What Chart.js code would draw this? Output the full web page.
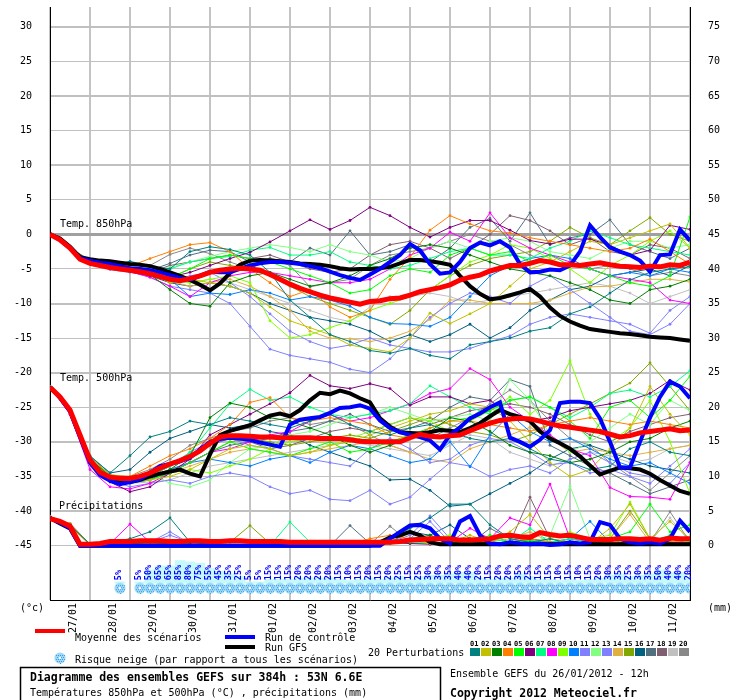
<!DOCTYPE html>
<html>
<head>
<meta charset="utf-8">
<script src="https://cdn.jsdelivr.net/npm/chart.js@4.4.0/dist/chart.umd.min.js"></script>
<style>
  body { margin: 0; background: #fff; }
  canvas { display: block; }
</style>
</head>
<body>
<canvas id="ens" width="740" height="700" style="width:740px;height:700px"></canvas>
<script>
// GEFS ensemble 26/01/2012 12h, 384h run, 53N 6.6E

const RUN_HOURS = 384;
const dateLabels = ['27/01', '28/01', '29/01', '30/01', '31/01', '01/02', '02/02', '03/02',
                    '04/02', '05/02', '06/02', '07/02', '08/02', '09/02', '10/02', '11/02'];
const dayTicks = [12, 36, 60, 84, 108, 132, 156, 180, 204, 228, 252, 276, 300, 324, 348, 372];
const tempTicks = [-45, -40, -35, -30, -25, -20, -15, -10, -5, 0, 5, 10, 15, 20, 25, 30];
const rainTicks = [0, 5, 10, 15, 20, 25, 30, 35, 40, 45, 50, 55, 60, 65, 70, 75];

// 6-hourly series (65 values)
const t850Mean = [0,-0.8,-2,-3.6,-4.2,-4.5,-4.8,-5.0,-5.2,-5.4,-5.7,-6.1,-6.5,-6.7,-6.4,-6.0,-5.5,-5.2,-5.0,-4.9,-5.0,-5.2,-5.8,-6.5,-7.2,-7.8,-8.3,-8.8,-9.2,-9.5,-9.8,-10.1,-9.7,-9.6,-9.3,-9.2,-8.8,-8.3,-8.0,-7.7,-7.3,-6.6,-6.2,-5.9,-5.3,-4.9,-4.5,-4.5,-4.2,-3.8,-4.0,-4.4,-4.4,-4.5,-4.3,-4.1,-4.4,-4.6,-4.7,-4.8,-4.6,-4.7,-4.4,-4.5,-4.0];
const t850Control = [0,-0.8,-2,-3.4,-3.8,-4.1,-4.3,-4.6,-4.9,-5.0,-5.2,-5.5,-5.9,-6.3,-6.6,-6.0,-5.4,-5.5,-5.5,-5.0,-4.5,-4.2,-4.0,-4.0,-4.1,-4.3,-4.6,-4.9,-5.4,-5.9,-6.3,-6.6,-5.8,-5.0,-4.0,-3.0,-1.4,-2.3,-4.3,-5.7,-5.5,-4.0,-2.0,-1.2,-1.6,-1.0,-1.9,-4.3,-5.5,-5.4,-5.1,-5.2,-4.5,-2.5,1.3,-0.4,-1.9,-2.5,-3.0,-3.8,-5.4,-3.0,-2.9,0.7,-0.9];
const t850Gfs = [0,-0.6,-1.8,-3.3,-3.6,-3.8,-3.9,-4.1,-4.3,-4.4,-4.6,-5.0,-5.5,-6.0,-6.6,-7.3,-8.1,-7.1,-5.6,-4.4,-3.8,-3.7,-3.8,-3.9,-4.0,-4.2,-4.3,-4.4,-4.6,-4.9,-5.1,-5.0,-5.0,-4.9,-4.7,-4.2,-3.7,-3.7,-3.9,-4.1,-4.4,-6.0,-7.5,-8.6,-9.4,-9.2,-8.8,-8.4,-7.9,-9.0,-10.6,-11.8,-12.6,-13.2,-13.7,-13.9,-14.1,-14.3,-14.4,-14.6,-14.8,-14.9,-15.0,-15.2,-15.4];

const t500Mean = [-22.1,-23.5,-25.4,-29,-32.6,-34.4,-35.1,-35.3,-35.3,-35.0,-34.5,-33.8,-33.2,-32.7,-32.1,-31.3,-30.2,-29.3,-29.1,-29.1,-29.2,-29.3,-29.3,-29.4,-29.4,-29.4,-29.4,-29.5,-29.5,-29.5,-29.7,-29.9,-30.0,-30.0,-30.0,-30.0,-29.4,-28.9,-29.2,-29.3,-29.1,-29.0,-28.4,-27.8,-27.3,-26.9,-26.7,-26.6,-26.7,-27.0,-27.4,-27.7,-27.9,-28.1,-28.3,-28.5,-28.9,-29.3,-29.1,-28.7,-28.5,-28.3,-28.1,-28.4,-28.3];
const t500Control = [-22.1,-23.6,-25.6,-29.3,-33.0,-34.8,-35.6,-36.1,-35.8,-35.4,-34.5,-33.5,-33.2,-32.8,-32.3,-31.1,-30.0,-29.6,-29.4,-29.5,-29.7,-30.1,-30.4,-30.7,-27.5,-26.8,-26.6,-26.4,-25.8,-25.1,-25.0,-24.7,-25.2,-26.9,-28.0,-28.6,-29.0,-29.3,-29.8,-31.1,-29.0,-27.9,-26.6,-25.9,-25.0,-24.3,-29.4,-30.0,-30.7,-29.7,-28.3,-24.4,-24.2,-24.2,-24.4,-26.6,-30.0,-33.7,-33.7,-30.0,-26.5,-23.5,-21.3,-22.0,-23.7];
const t500Gfs = [-22.1,-23.6,-25.5,-29.2,-32.8,-34.6,-35.3,-35.6,-35.8,-35.5,-35.0,-34.6,-34.3,-34.0,-34.6,-35.0,-31.8,-29.0,-28.4,-28.0,-27.6,-26.9,-26.2,-25.9,-26.3,-25.4,-24.0,-22.9,-23.1,-22.6,-23.0,-23.7,-24.3,-26.6,-27.8,-28.6,-28.7,-28.8,-28.6,-28.3,-28.4,-28.6,-28.0,-27.3,-26.3,-25.4,-26.0,-26.4,-27.0,-28.5,-29.5,-30.2,-31.0,-32.1,-33.4,-34.7,-34.2,-33.7,-33.8,-34.0,-34.6,-35.5,-36.3,-37.1,-37.5];

const rainMean = [3.9,3.5,2.8,0.2,0.2,0.3,0.6,0.6,0.6,0.7,0.7,0.7,0.6,0.6,0.7,0.7,0.6,0.6,0.7,0.7,0.6,0.6,0.6,0.6,0.5,0.5,0.5,0.5,0.5,0.5,0.5,0.5,0.5,0.5,0.5,0.6,0.8,0.9,1.0,1.0,1.0,0.8,0.8,0.9,1.0,1.4,1.5,1.3,1.2,1.9,1.6,1.4,1.5,1.2,0.9,0.9,0.9,1.0,1.0,0.9,1.0,0.8,1.1,1.0,1.0];
const rainControl = [4.0,3.3,2.5,0,0,0,0,0,0,0,0,0,0,0,0,0,0,0,0,0,0,0,0,0,0,0,0,0,0,0,0,0,0,0,1.0,2.0,2.9,3.0,2.5,1.0,0.3,3.5,4.3,1.5,0.3,0.2,0.5,0.3,0.2,0.3,0.1,0.2,0.5,0.3,0.5,3.4,3.0,1.0,0.5,0.3,0.5,0.3,1.0,3.6,2.0];
const rainGfs = [4.0,3.2,2.5,0,0,0,0,0,0,0,0,0,0,0,0,0,0,0,0,0,0,0,0,0,0,0,0,0,0,0,0,0,0,0.5,1.2,1.5,2.0,1.5,0.5,0.2,0.2,0.2,0.2,0.2,0.2,0.2,0.2,0.2,0.2,0.2,0.2,0.2,0.2,0.2,0.2,0.2,0.2,0.2,0.2,0.2,0.2,0.2,0.2,0.2,0.2];

// snow risk, % of all scenarios, 6-hourly
const snowRisk = [0,0,0,0,0,0,0,5,0,5,50,65,65,85,80,75,55,45,35,25,5,5,15,15,15,20,20,20,20,15,10,15,20,15,20,25,15,25,30,30,35,40,40,20,15,20,20,35,25,15,15,10,15,10,15,20,30,35,25,30,35,50,40,40,20];

// 20 perturbations, 12-hourly (33 values each)
const memberColors = ['#008080', '#c0c000', '#008000', '#ff8000', '#00ff00', '#800080', '#00ff80', '#ff00ff', '#80ff00', '#0080ff',
                      '#8080ff', '#80ff80', '#8080ff', '#e0b040', '#80a800', '#006080', '#507080', '#806070', '#c0c0c0', '#888888'];

const t850Members = [
  [0,-2,-3.8,-4.6,-3.9,-4.6,-5.0,-2.5,-1.8,-2.2,-3.0,-5.5,-9.5,-12.0,-14.5,-15.5,-16.8,-17.2,-16.5,-17.5,-18.0,-16.0,-15.5,-15.0,-14.0,-13.5,-11.5,-10.5,-8.5,-6.6,-5.5,-5.0,-4.7],
  [0,-2.1,-4.0,-4.9,-5.3,-5.6,-7.0,-6.5,-7.0,-7.5,-8.5,-10.5,-12.5,-13.5,-14.5,-16.0,-16.5,-17.0,-15.0,-11.4,-12.9,-11.5,-10.0,-7.5,-5.0,-4.0,-2.5,-1.0,-1.5,-0.5,0.5,1.5,-2.0],
  [0,-2,-3.9,-4.7,-5.1,-5.8,-8.0,-10.0,-10.4,-7.0,-6.0,-5.5,-6.5,-7.5,-7.0,-6.0,-4.5,-3.5,-2.0,-1.5,-2.0,-3.0,-4.0,-5.0,-5.5,-6.0,-7.0,-8.0,-9.5,-10.0,-8.0,-7.5,-6.5],
  [0,-2,-3.7,-4.3,-4.6,-3.5,-2.5,-1.5,-1.2,-2.5,-5.0,-7.0,-9.0,-8.0,-10.5,-12.0,-11.0,-6.5,-3.3,0.6,2.7,1.5,0.5,0.2,-0.5,-1.0,-1.5,-2.0,-2.5,-2.0,-0.7,-2.5,-4.3],
  [0,-2,-3.8,-4.8,-5.2,-5.7,-6.3,-5.0,-3.5,-3.0,-3.5,-4.0,-5.0,-6.0,-7.0,-8.5,-8.0,-6.0,-5.0,-5.5,-3.0,-2.0,-3.0,-2.5,-4.0,-3.0,-4.5,-5.0,-6.0,-7.0,-7.5,-6.0,2.5],
  [0,-2,-4.0,-4.9,-5.4,-6.0,-6.2,-5.5,-4.5,-3.5,-2.6,-1.1,0.5,2.1,0.7,2.0,3.9,2.7,1.0,-0.4,1.0,2.0,2.0,0.6,-0.9,-1.4,-0.7,-0.7,-1.6,-3.0,-2.3,1.3,0.7],
  [0,-2,-3.8,-4.5,-4.8,-5.2,-5.0,-4.0,-3.5,-3.2,-2.3,-1.9,-3.0,-3.0,-2.5,-4.0,-4.5,-5.0,-4.5,-3.5,-2.5,-2.0,-3.0,-3.0,-3.5,-2.0,-1.0,0.5,-0.5,-1.5,-2.0,-2.5,-3.0],
  [0,-2,-4.1,-4.9,-5.4,-6.2,-7.5,-9.0,-7.0,-6.0,-5.5,-5.5,-6.0,-6.5,-7.0,-7.0,-6.5,-5.0,-3.0,-2.0,0.3,-1.0,3.1,-0.5,-2.0,-3.0,-4.0,-5.0,-6.0,-6.5,-7.0,-9.5,-10.0],
  [0,-2,-4.0,-4.8,-5.2,-6.0,-6.5,-7.0,-6.5,-6.0,-7.0,-12.5,-15.0,-14.5,-13.5,-12.5,-11.0,-10.0,-9.0,-8.0,-6.0,-4.0,-3.0,-1.5,-2.0,-3.5,-5.0,-7.0,-4.5,-3.0,-1.0,0.5,-2.0],
  [0,-2,-4.0,-4.6,-5.0,-5.8,-6.5,-9.0,-8.5,-8.7,-8.0,-8.5,-9.5,-9.0,-9.5,-10.4,-12.0,-12.9,-13.0,-13.3,-12.0,-9.0,-6.0,-4.5,-3.5,-3.0,-3.5,-5.0,-6.0,-5.5,-6.0,-5.0,-5.5],
  [0,-2,-4.1,-5.0,-5.4,-6.2,-7.5,-8.0,-8.5,-10.0,-13.3,-16.6,-17.5,-18.0,-18.5,-19.5,-20.0,-18.0,-15.0,-12.0,-10.0,-8.5,-9.0,-10.0,-7.5,-6.0,-8.0,-10.0,-12.0,-14.0,-14.5,-13.0,-10.0],
  [0,-2,-3.8,-4.5,-4.9,-5.3,-4.8,-4.0,-3.2,-2.5,-2.0,-1.5,-1.9,-2.5,-1.5,-2.5,-3.0,-4.0,-3.5,-2.0,-1.0,-2.0,-1.0,-0.5,-1.0,-2.5,-3.0,-3.5,-2.0,-1.0,-1.0,-2.0,-1.5],
  [0,-2,-4.2,-5.1,-5.5,-6.0,-6.8,-6.0,-5.5,-7.0,-9.0,-11.5,-14.0,-15.5,-16.5,-16.0,-15.0,-16.0,-16.5,-17.0,-17.0,-16.5,-15.5,-14.7,-13.0,-12.0,-11.5,-12.0,-12.5,-13.0,-14.3,-11.0,-9.0],
  [0,-2,-3.9,-4.7,-5.1,-5.9,-6.8,-7.5,-7.0,-6.5,-7.5,-9.0,-11.0,-14.0,-15.0,-15.1,-15.5,-15.0,-14.0,-12.3,-9.5,-9.5,-10.0,-10.0,-10.0,-9.5,-8.5,-7.6,-7.5,-7.0,-6.5,-6.5,-6.9],
  [0,-2,-4.0,-4.8,-5.3,-6.0,-6.3,-5.0,-4.0,-4.5,-5.0,-6.0,-7.5,-9.0,-10.0,-11.0,-12.0,-13.0,-11.0,-8.0,-6.0,-4.5,-3.5,-3.0,-2.5,-1.0,1.0,-0.5,-1.5,0.5,2.4,0.0,-1.0],
  [0,-2,-4.1,-4.9,-5.3,-6.0,-7.0,-7.5,-7.0,-7.5,-8.5,-10.0,-11.0,-12.0,-12.5,-13.0,-14.0,-15.5,-14.5,-15.5,-14.5,-13.0,-15.0,-13.5,-11.0,-9.5,-8.0,-7.5,-6.0,-5.5,-5.0,-6.0,-4.5],
  [0,-2,-3.9,-4.6,-5.0,-5.2,-4.2,-3.0,-2.3,-2.5,-4.0,-3.5,-4.0,-2.0,-3.0,0.5,-3.0,-2.5,-1.5,-4.0,-2.0,1.0,2.3,-1.0,3.1,-1.5,-0.5,0.0,2.1,-1.5,-2.5,-3.5,-2.0],
  [0,-2,-4.0,-4.7,-5.1,-5.5,-4.5,-4.0,-3.5,-3.0,-3.5,-3.0,-4.0,-5.0,-5.5,-5.0,-3.0,-1.5,-1.0,-2.0,-3.5,-2.0,0.0,2.7,2.0,0.5,-1.5,-0.5,-2.5,-3.0,-1.5,-2.0,-3.5],
  [0,-2,-4.1,-5.0,-5.4,-6.0,-6.8,-7.0,-6.5,-7.0,-8.0,-9.0,-10.0,-11.0,-12.0,-12.6,-10.5,-9.0,-9.0,-8.5,-9.0,-10.0,-9.5,-9.0,-8.5,-8.0,-7.5,-7.0,-7.5,-8.5,-10.0,-9.0,-8.0],
  [0,-2,-3.9,-4.6,-5.0,-4.5,-2.9,-2.0,-2.8,-4.0,-5.0,-3.5,-4.5,-7.6,-7.0,-6.5,-4.5,-3.0,-2.5,-2.0,-1.0,0.0,-1.0,-1.5,-3.0,-4.0,-4.5,-5.0,-4.5,-5.0,-6.0,-5.5,-6.0]
];

const t500Members = [
  [-22.1,-25.3,-32.0,-34.5,-32.0,-29.3,-28.5,-27.0,-27.5,-26.5,-27.0,-27.5,-28.0,-27.0,-26.0,-27.5,-28.5,-29.0,-28.0,-27.5,-28.5,-29.5,-30.0,-29.5,-31.0,-32.5,-33.0,-34.0,-33.5,-31.0,-30.0,-31.5,-32.0],
  [-22.1,-25.5,-32.8,-35.3,-35.8,-35.5,-35.0,-34.0,-32.5,-31.0,-30.5,-31.0,-32.0,-31.5,-30.5,-30.0,-29.0,-28.0,-27.0,-26.0,-25.5,-24.5,-25.0,-27.0,-30.0,-33.0,-35.0,-34.0,-31.0,-28.0,-22.0,-26.0,-29.0],
  [-22.1,-25.4,-32.5,-35.0,-35.5,-35.0,-34.0,-32.0,-26.5,-24.4,-25.0,-26.5,-27.0,-28.0,-29.0,-30.5,-31.5,-30.5,-29.5,-28.5,-26.5,-27.0,-28.5,-30.5,-31.5,-32.0,-33.0,-32.5,-31.5,-30.0,-29.5,-28.0,-27.0],
  [-22.1,-25.2,-32.2,-34.8,-35.0,-33.5,-32.0,-31.0,-29.5,-27.5,-24.3,-23.6,-26.5,-27.0,-26.5,-27.0,-27.5,-29.0,-29.5,-28.0,-27.0,-27.0,-27.5,-28.0,-28.5,-27.5,-27.0,-26.5,-27.0,-27.5,-27.0,-27.5,-28.0],
  [-22.1,-25.4,-32.7,-35.2,-35.7,-35.5,-34.5,-33.0,-31.5,-30.0,-31.0,-31.5,-32.0,-31.0,-30.0,-31.5,-31.0,-30.0,-29.0,-28.0,-27.0,-26.5,-25.5,-24.0,-23.5,-25.0,-27.0,-29.5,-25.0,-24.0,-26.5,-24.0,-20.5],
  [-22.1,-25.6,-33.0,-35.8,-37.2,-36.5,-34.5,-32.5,-29.0,-27.5,-26.0,-24.5,-22.9,-20.4,-21.9,-22.3,-21.6,-22.3,-24.7,-23.5,-23.5,-24.5,-24.0,-26.0,-27.0,-26.5,-25.5,-25.0,-24.5,-24.0,-23.0,-21.1,-22.5],
  [-22.1,-25.3,-32.2,-34.8,-35.5,-35.0,-33.5,-31.5,-28.0,-24.5,-22.4,-24.0,-23.5,-25.0,-26.0,-26.5,-26.0,-25.5,-24.5,-21.9,-23.5,-25.0,-26.0,-24.0,-23.5,-25.0,-26.5,-25.0,-23.0,-22.5,-23.5,-22.0,-19.7],
  [-22.1,-26.0,-34.0,-36.5,-36.8,-36.0,-34.5,-33.0,-31.5,-31.0,-30.0,-29.0,-28.5,-27.0,-26.1,-27.0,-26.5,-25.5,-24.5,-23.0,-22.3,-19.4,-21.0,-25.0,-27.0,-29.0,-31.0,-32.0,-36.6,-37.9,-38.0,-38.3,-33.0],
  [-22.1,-25.4,-32.6,-35.0,-35.5,-35.0,-34.5,-34.0,-34.5,-33.5,-32.5,-31.0,-30.0,-29.5,-30.5,-29.5,-28.5,-27.5,-26.5,-27.0,-28.5,-27.0,-25.5,-23.5,-26.0,-24.0,-18.3,-26.0,-30.0,-28.0,-24.0,-30.0,-37.5],
  [-22.1,-25.4,-32.7,-35.4,-36.0,-35.5,-34.0,-33.0,-32.5,-33.0,-33.5,-32.5,-32.0,-33.0,-31.5,-30.5,-31.0,-32.0,-33.0,-32.5,-30.0,-33.6,-29.0,-26.0,-28.5,-30.0,-29.5,-31.0,-32.5,-33.5,-33.0,-34.5,-36.0],
  [-22.1,-25.5,-33.0,-35.5,-36.5,-36.0,-35.5,-36.0,-35.0,-34.5,-35.0,-36.5,-37.5,-37.0,-38.3,-38.5,-37.0,-39.0,-38.0,-35.4,-33.0,-33.5,-35.0,-34.0,-33.5,-34.5,-32.5,-31.5,-33.0,-34.5,-35.0,-36.0,-33.0],
  [-22.1,-25.3,-32.3,-34.7,-35.2,-34.5,-36.0,-36.5,-35.5,-33.0,-31.0,-30.5,-29.0,-28.5,-27.5,-26.5,-26.0,-25.0,-26.0,-27.0,-26.5,-26.0,-27.0,-21.0,-24.0,-29.0,-31.5,-30.0,-28.0,-26.0,-27.5,-24.0,-25.5],
  [-22.1,-25.4,-32.8,-35.3,-35.8,-35.0,-33.5,-31.5,-30.0,-29.5,-30.5,-31.0,-32.0,-32.5,-33.0,-33.5,-31.0,-29.5,-31.0,-33.0,-32.5,-30.5,-29.5,-30.0,-31.5,-33.3,-33.0,-34.5,-34.0,-35.0,-36.0,-33.5,-31.0],
  [-22.1,-25.5,-33.0,-35.5,-36.0,-35.5,-34.5,-33.5,-32.5,-31.5,-31.0,-31.5,-32.0,-31.5,-31.0,-30.5,-30.0,-30.5,-31.5,-32.5,-33.0,-31.0,-30.0,-29.0,-27.9,-29.5,-31.5,-31.0,-31.5,-32.0,-31.5,-31.0,-30.5],
  [-22.1,-25.3,-32.4,-34.9,-35.4,-35.0,-34.0,-33.0,-31.5,-30.0,-29.5,-30.0,-30.5,-30.0,-29.5,-29.0,-29.5,-28.5,-27.5,-26.5,-27.5,-28.5,-29.0,-30.0,-29.0,-27.5,-26.0,-24.5,-23.0,-21.5,-18.6,-22.0,-25.5],
  [-22.1,-25.3,-32.1,-34.5,-34.0,-31.5,-29.5,-28.5,-27.5,-28.0,-27.5,-28.5,-29.0,-30.5,-31.5,-32.5,-33.5,-35.5,-35.4,-37.0,-39.3,-39.0,-37.5,-36.0,-34.5,-32.5,-31.0,-30.5,-31.5,-32.5,-33.5,-34.0,-34.5],
  [-22.1,-25.4,-32.5,-35.0,-35.5,-35.5,-34.5,-33.0,-31.5,-30.5,-30.0,-29.5,-28.5,-28.0,-27.0,-26.0,-27.5,-28.5,-28.0,-27.0,-25.0,-23.5,-24.0,-21.0,-22.0,-30.5,-32.0,-33.5,-34.5,-36.0,-37.5,-36.5,-35.5],
  [-22.1,-25.4,-32.6,-35.0,-35.5,-35.0,-33.5,-32.0,-30.5,-29.5,-30.0,-31.0,-30.5,-29.5,-28.5,-28.0,-28.5,-27.5,-26.5,-27.5,-26.5,-25.5,-25.0,-24.5,-25.0,-26.0,-27.5,-29.0,-30.0,-28.5,-27.5,-26.5,-26.0],
  [-22.1,-25.5,-32.8,-35.3,-36.0,-35.8,-35.5,-34.5,-33.5,-33.0,-32.5,-32.0,-31.5,-31.0,-30.5,-30.0,-30.5,-31.0,-31.5,-32.0,-30.5,-29.0,-29.5,-31.5,-32.5,-33.5,-32.5,-31.5,-32.0,-33.0,-32.5,-31.0,-30.5],
  [-22.1,-25.3,-32.4,-34.8,-35.0,-34.0,-32.5,-30.5,-29.5,-28.5,-28.0,-27.0,-26.5,-27.5,-27.0,-27.5,-29.0,-30.5,-31.5,-29.5,-28.0,-26.5,-24.5,-22.5,-24.0,-27.0,-29.5,-30.5,-33.0,-35.0,-37.0,-34.5,-32.0]
];

const rainMembers = [
  [4.0,3.0,0.2,0.5,1.0,2.0,4.0,0.5,0.2,0,0,0,0.1,0,0,0.2,0.5,1.0,2.5,4.0,6.0,6.0,3.0,1.0,0.5,1.0,0.3,0.5,0.2,0.5,0.3,0.2,0.4],
  [4.2,3.2,0.1,0,0,0,0,0,0,0,0,0,0,0,0,0,0.2,0.5,1.0,0.3,0.5,1.5,0.5,2.0,4.5,1.0,0.5,0.3,2.5,6.0,1.0,3.5,1.0],
  [4.0,3.0,0.2,0.3,0.3,0.5,0.3,0.2,0,0,0,0,0,0,0.1,0.2,0.3,0.5,1.0,1.5,0.5,0.8,0.3,0.5,0.2,0.3,0.5,0.3,0.2,0.5,0.8,0.3,0.2],
  [3.8,2.8,0.1,0.2,0.2,0.3,0.2,0.1,0,0,0,0,0,0,0,0.3,1.0,1.5,1.0,0.5,0.2,0.3,0.2,0.5,1.0,0.5,0.3,0.2,0.5,0.3,1.0,0.5,0.8],
  [4.0,3.0,0.1,0.2,0.2,0.2,0.2,0.1,0,0,0,0,0,0,0,0,0.2,0.3,0.5,1.0,0.5,0.3,1.5,0.5,0.8,0.3,0.5,0.3,1.0,2.0,6.0,2.0,3.0],
  [4.2,3.1,0.1,0.2,0.2,0.2,0.2,0.1,0,0,0,0,0,0,0,0,0.3,0.5,0.3,0.2,0.5,0.3,0.2,0.5,0.3,0.2,0.3,0.5,0.2,0.3,0.5,0.3,0.2],
  [4.0,3.0,0.2,0.2,0.2,0.2,0.2,0.1,0,0,0,0,3.4,0.5,0.1,0,0.2,0.5,0.3,0.5,0.3,0.5,1.0,0.5,2.5,0.5,1.0,0.5,0.3,1.0,0.5,1.5,0.5],
  [4.0,3.2,0.2,0.3,3.1,0.5,0.2,0.1,0,0,0,0,0,0,0,0,0.2,0.3,0.5,1.0,0.5,2.5,1.0,4.0,3.0,8.9,1.0,0.5,0.3,0.5,1.0,0.5,0.3],
  [4.0,3.0,0.1,0.2,0.2,0.2,0.2,0.1,0,0,0,0,0,0,0,0,0.2,0.3,0.5,1.0,1.5,0.5,1.0,1.5,0.5,1.0,2.0,1.0,1.5,6.3,1.0,0.5,0.5],
  [4.0,3.0,0.2,0.2,0.3,0.3,0.3,0.2,0,0,0,0,0,0,0,0,0.3,0.5,0.8,0.5,0.3,0.5,0.3,0.5,1.0,0.5,1.0,3.5,0.5,0.3,0.5,1.0,0.3],
  [4.1,3.1,0.2,0.3,0.3,0.5,2.0,0.3,0.1,0,0,0,0,0,0,0,0,0.5,1.5,4.3,1.0,0.5,0.3,0.5,0.3,0.2,0.3,0.5,0.3,0.2,0.3,0.5,0.3],
  [4.0,3.0,0.2,0.2,0.2,0.2,0.2,0.1,0,0,0,0,0,0,0,0,0.2,0.3,0.5,0.3,0.5,0.3,1.0,0.5,0.3,1.5,8.6,1.0,0.5,0.3,0.5,0.3,0.2],
  [4.1,3.1,0.2,0.3,0.2,0.5,1.5,0.5,0.2,0,0,0,0,0,0,0,0,0.5,1.0,3.5,0.5,0.3,0.5,0.3,0.2,0.5,0.3,0.2,0.5,0.3,0.2,0.5,0.3],
  [4.0,3.0,0.1,0.2,0.2,0.2,0.2,0.1,0,0,0,0,0,0,0,0,0.2,1.0,0.5,0.3,0.5,0.3,0.5,1.0,2.0,0.5,0.3,0.5,1.0,4.5,0.5,1.0,0.5],
  [4.0,3.0,0.1,0.2,0.2,0.2,0.2,0.2,0.3,0.5,2.9,0.3,0.1,0,0,0,0.2,0.3,0.5,0.3,0.5,0.3,0.5,0.3,1.0,0.5,0.3,0.5,1.0,5.0,1.0,0.5,0.3],
  [4.0,3.0,0.2,0.3,0.2,0.3,0.3,0.2,0,0,0,0,0,0,0,0,0.2,0.5,2.0,1.5,3.0,1.0,0.5,0.3,0.5,0.3,0.2,0.3,0.5,0.3,0.2,0.3,0.5],
  [4.0,3.0,0.2,0.2,0.2,0.2,0.2,0.1,0,0,0,0,0,0,0,2.9,0.3,0.5,0.5,1.0,0.5,0.3,2.5,1.0,0.5,0.3,1.0,0.5,0.3,0.5,0.3,0.5,0.3],
  [4.0,3.0,0.2,0.2,0.2,0.2,0.2,0.1,0,0,0,0,0,0,0,0,0.3,0.5,0.3,0.5,0.3,0.5,0.3,0.5,7.0,1.0,0.5,0.3,0.5,0.3,0.5,0.3,0.5],
  [4.0,3.0,0.2,0.2,0.2,0.2,0.2,0.1,0,0,0,0,0,0,0,0,0.2,0.3,0.5,0.3,0.5,0.3,0.5,0.3,0.5,0.3,0.5,0.3,0.5,0.3,0.5,4.0,0.5],
  [4.0,3.0,0.2,0.2,0.2,0.2,0.2,0.1,0,0,0,0,0,0,0,0,0.2,2.8,0.5,0.3,0.5,0.3,0.5,1.5,0.5,0.3,0.5,0.3,0.5,0.3,0.5,4.9,0.5]
];

// ---- layout (pixels) ----
const PX_PER_DEG = 7;      // vertical scale of the temperature axis
const ZERO_Y = 230;        // pixel row of 0 °C
const PLOT_BOTTOM = 600;
const Y_MIN = (ZERO_Y - PLOT_BOTTOM) / PX_PER_DEG;
const Y_MAX = ZERO_Y / PX_PER_DEG;
const RAIN_OFFSET = 45;    // 0 mm sits on -45 °C
const SNOW_BAR_PX = 0.27;  // cyan bar height per %
const MONO = '"DejaVu Sans Mono", "Liberation Mono", monospace';

function toPoints(values) {
  const step = RUN_HOURS / (values.length - 1);
  return values.map((v, i) => ({ x: i * step, y: v }));
}

function makeFlake() {
  const c = document.createElement('canvas');
  c.width = 12; c.height = 12;
  const g = c.getContext('2d');
  g.fillStyle = '#9cd9f7';
  g.beginPath(); g.arc(6, 6, 5.6, 0, Math.PI * 2); g.fill();
  g.fillStyle = '#3a9be6';
  for (let yy = 1; yy < 12; yy += 2) {
    for (let xx = (yy % 4 === 1 ? 1 : 2); xx < 12; xx += 2) {
      if ((xx - 6) * (xx - 6) + (yy - 6) * (yy - 6) < 26) g.fillRect(xx, yy, 1, 1);
    }
  }
  g.fillStyle = '#ffffff';
  g.fillRect(5, 5, 2, 2);
  return c;
}
const flake = makeFlake();

const datasets = [];

// perturbations
memberColors.forEach((c, m) => {
  const base = { type: 'line', borderColor: c, backgroundColor: c, borderWidth: 1,
                 pointRadius: 1.4, pointBorderWidth: 0, pointBackgroundColor: c, order: 5 };
  datasets.push(Object.assign({ data: toPoints(t850Members[m]), yAxisID: 'y' }, base));
  datasets.push(Object.assign({ data: toPoints(t500Members[m]), yAxisID: 'y' }, base));
  datasets.push(Object.assign({ data: toPoints(rainMembers[m]), yAxisID: 'yR' }, base));
});

// control + GFS
[[t850Control, t500Control, rainControl, '#0000ff'], [t850Gfs, t500Gfs, rainGfs, '#000000']].forEach(([a, b, r, c]) => {
  const base = { type: 'line', borderColor: c, borderWidth: 4, pointRadius: 0, order: 2 };
  datasets.push(Object.assign({ data: toPoints(a), yAxisID: 'y' }, base));
  datasets.push(Object.assign({ data: toPoints(b), yAxisID: 'y' }, base));
  datasets.push(Object.assign({ data: toPoints(r), yAxisID: 'yR' }, base));
});

// ensemble mean
[[t850Mean, 'y'], [t500Mean, 'y'], [rainMean, 'yR']].forEach(([v, ax]) => {
  datasets.push({ type: 'line', data: toPoints(v), yAxisID: ax, borderColor: '#ff0000',
                  borderWidth: 5, pointRadius: 0, order: 0 });
});

// snow risk band (only where risk > 0)
const snowPoints = toPoints(snowRisk).filter(p => p.y > 0);
datasets.push({
  type: 'bar', yAxisID: 'ys', order: 10,
  data: snowPoints.map(p => ({ x: p.x, y: [0, p.y * SNOW_BAR_PX] })),
  backgroundColor: '#c6fafa', borderWidth: 0, barThickness: 10, grouped: false
});
datasets.push({
  type: 'line', yAxisID: 'ys', order: 9, showLine: false,
  data: snowPoints.map(p => ({ x: p.x, y: -5 })),
  pointStyle: flake, pointRadius: 6
});

const overlay = {
  id: 'overlay',
  afterDatasetsDraw(chart) {
    const { ctx, scales } = chart;
    const xs = scales.x, ys = scales.ys;
    const step = RUN_HOURS / (snowRisk.length - 1);
    ctx.save();
    ctx.fillStyle = '#0000ff';
    ctx.font = 'bold 8.5px ' + MONO;
    ctx.textAlign = 'left';
    ctx.textBaseline = 'middle';
    snowRisk.forEach((pct, i) => {
      if (!pct) return;
      ctx.save();
      ctx.translate(xs.getPixelForValue(i * step) - 1, ys.getPixelForValue(3));
      ctx.rotate(-Math.PI / 2);
      ctx.fillText(pct + '%', 0, 0);
      ctx.restore();
    });
    ctx.restore();
  },
  afterDraw(chart) {
    const ctx = chart.ctx;
    ctx.save();
    ctx.textAlign = 'left';
    ctx.textBaseline = 'alphabetic';
    ctx.fillStyle = '#000';
    ctx.font = '10px ' + MONO;
    ctx.fillText('Temp. 850hPa', 60, 227);
    ctx.fillText('Temp. 500hPa', 60, 381);
    ctx.fillText('Précipitations', 59, 509);

    ctx.fillText('(°c)', 20, 611);
    ctx.fillText('(mm)', 708, 611);

    ctx.fillStyle = '#ff0000'; ctx.fillRect(35, 629, 30, 4);
    ctx.fillStyle = '#000'; ctx.fillText('Moyenne des scénarios', 75, 641);
    ctx.fillStyle = '#0000ff'; ctx.fillRect(225, 635, 30, 4);
    ctx.fillStyle = '#000'; ctx.fillText('Run de contrôle', 265, 641);
    ctx.fillRect(225, 645, 30, 4);
    ctx.fillText('Run GFS', 265, 651);
    ctx.drawImage(flake, 54, 652);
    ctx.fillText('Risque neige (par rapport a tous les scénarios)', 75, 663);
    ctx.fillText('20 Perturbations', 368, 656);

    ctx.font = 'bold 7px ' + MONO;
    memberColors.forEach((c, k) => {
      const x = 470 + k * 11;
      ctx.fillStyle = '#000';
      ctx.fillText(String(k + 1).padStart(2, '0'), x, 646);
      ctx.fillStyle = c;
      ctx.fillRect(x, 648, 10, 8);
    });

    ctx.strokeStyle = '#000'; ctx.lineWidth = 1.5;
    ctx.strokeRect(20.5, 667.5, 420, 40);
    ctx.fillStyle = '#000';
    ctx.font = 'bold 11.5px ' + MONO;
    ctx.fillText('Diagramme des ensembles GEFS sur 384h : 53N 6.6E', 30, 681);
    ctx.fillText('Copyright 2012 Meteociel.fr', 450, 697);
    ctx.font = '10px ' + MONO;
    ctx.fillText('Températures 850hPa et 500hPa (°C) , précipitations (mm)', 30, 696);
    ctx.fillText('Ensemble GEFS du 26/01/2012 - 12h', 450, 677);
    ctx.restore();
  }
};

function noPad(s) { s.paddingTop = 0; s.paddingBottom = 0; s.paddingLeft = 0; s.paddingRight = 0; }

new Chart(document.getElementById('ens'), {
  type: 'line',
  data: { datasets },
  plugins: [overlay],
  options: {
    responsive: false,
    animation: false,
    events: [],
    layout: { padding: 0 },
    plugins: { legend: { display: false }, tooltip: { enabled: false } },
    elements: { line: { tension: 0 } },
    scales: {
      x: {
        type: 'linear', min: 0, max: RUN_HOURS, offset: false,
        afterBuildTicks: s => { s.ticks = dayTicks.map(v => ({ value: v })); },
        afterFit: s => { s.height = 100; noPad(s); },
        ticks: { autoSkip: false, minRotation: 90, maxRotation: 90, padding: 3, labelOffset: 3,
                 color: '#000', font: { family: MONO, size: 10 },
                 callback: (v, i) => dateLabels[i] },
        grid: { color: '#c4c4c4', lineWidth: 2, drawTicks: false },
        border: { color: '#000', width: 1 }
      },
      y: {
        position: 'left', min: Y_MIN, max: Y_MAX,
        afterBuildTicks: s => { s.ticks = tempTicks.map(v => ({ value: v })); },
        afterFit: s => { s.width = 50; noPad(s); },
        ticks: { padding: 18, color: '#000', font: { family: MONO, size: 10 } },
        grid: {
          drawTicks: false,
          color: c => c.tick && c.tick.value === 0 ? '#a0a0a0' : '#c0c0c0',
          lineWidth: c => !c.tick ? 1 : c.tick.value === 0 ? 3 : (c.tick.value % 10 === 0 ? 2 : 1)
        },
        border: { color: '#000', width: 1 }
      },
      yR: {
        position: 'right', min: Y_MIN + RAIN_OFFSET, max: Y_MAX + RAIN_OFFSET,
        afterBuildTicks: s => { s.ticks = rainTicks.map(v => ({ value: v })); },
        afterFit: s => { s.width = 50; noPad(s); },
        ticks: { padding: 18, color: '#000', font: { family: MONO, size: 10 } },
        grid: { display: false, drawTicks: false },
        border: { color: '#000', width: 1 }
      },
      ys: { display: false, min: -17, max: 583 }
    }
  }
});
</script>
</body>
</html>
